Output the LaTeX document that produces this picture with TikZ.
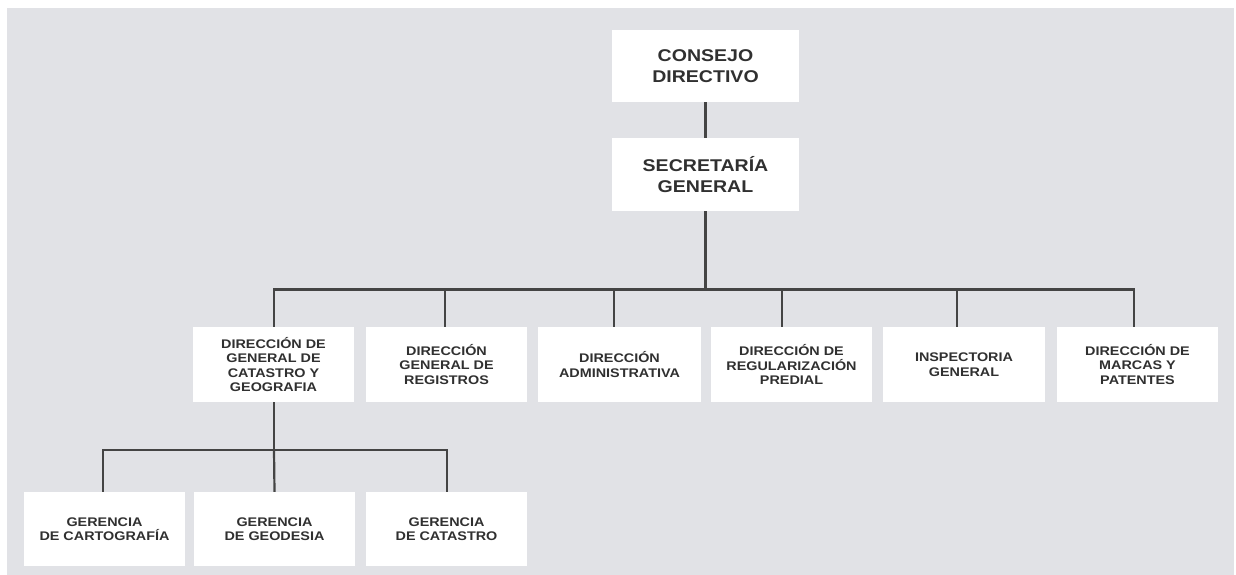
\documentclass[tikz,border=0pt]{standalone}
\usepackage{fontspec}
\newfontfamily\orgfont[FakeStretch=1.15]{Liberation Sans}
\definecolor{bggray}{HTML}{E1E2E6}
\definecolor{linegray}{HTML}{444444}
\definecolor{txtgray}{HTML}{303030}
\begin{document}
\begin{tikzpicture}[x=1pt,y=-1pt,
  top/.style={fill=white,draw=none,minimum width=187pt,minimum height=72pt,inner sep=0pt,align=center,text=txtgray,font=\orgfont\bfseries\fontsize{17}{21}\selectfont},
  unit/.style={fill=white,draw=none,minimum width=161pt,minimum height=75pt,inner sep=0pt,align=center,text=txtgray,font=\orgfont\bfseries\fontsize{12.5}{14.4}\selectfont},
  conn/.style={draw=linegray,line width=2.2pt}]
\useasboundingbox (0,0) rectangle (1236,575);
\fill[white] (0,0) rectangle (1236,575);
\fill[bggray] (7,8) rectangle (1234,575);
% top
\node[top] (cd) at (705.5,66) {CONSEJO\\DIRECTIVO};
\node[top,minimum height=73pt] (sg) at (705.5,174.5) {SECRETARÍA\\GENERAL};
% directions
\node[unit] (d1) at (273.5,364.5) {DIRECCIÓN DE\\GENERAL DE\\CATASTRO Y\\GEOGRAFIA};
\node[unit] (d2) at (446.5,364.5) {DIRECCIÓN\\GENERAL DE\\REGISTROS};
\node[unit,minimum width=163pt] (d3) at (619.5,364.5) {DIRECCIÓN\\ADMINISTRATIVA};
\node[unit] (d4) at (791.5,364.5) {DIRECCIÓN DE\\REGULARIZACIÓN\\PREDIAL};
\node[unit,minimum width=162pt] (d5) at (964,364.5) {INSPECTORIA\\GENERAL};
\node[unit] (d6) at (1137.5,364.5) {DIRECCIÓN DE\\MARCAS Y\\PATENTES};
% gerencias
\node[unit,minimum height=74pt] (g1) at (104.5,529) {GERENCIA\\DE CARTOGRAFÍA};
\node[unit,minimum height=74pt] (g2) at (274.5,529) {GERENCIA\\DE GEODESIA};
\node[unit,minimum height=74pt] (g3) at (446.5,529) {GERENCIA\\DE CATASTRO};
% bars
\coordinate (bar) at (705.5,289.5);
\coordinate (sub) at (274,450);
% connectors
\draw[conn] (cd.south) -- (sg.north);
\draw[conn] (sg.south) -- (bar);
\draw[conn] ([xshift=0.5pt]d1.north) |- (bar);
\draw[conn] ([xshift=-1.5pt]d2.north) -- ++(0,-38);
\draw[conn] ([xshift=-5.5pt]d3.north) -- ++(0,-38);
\draw[conn] ([xshift=-9.5pt]d4.north) -- ++(0,-38);
\draw[conn] ([xshift=-7pt]d5.north) -- ++(0,-38);
\draw[conn] ([xshift=-3.5pt]d6.north) |- (bar);
\draw[conn] ([xshift=0.5pt]d1.south) -- (sub);
\draw[conn] ([xshift=-1.5pt]g1.north) |- (sub);
\draw[conn] (g2.north) -- (sub);
\draw[conn] ([xshift=0.5pt]g3.north) |- (sub);
\end{tikzpicture}
\end{document}
